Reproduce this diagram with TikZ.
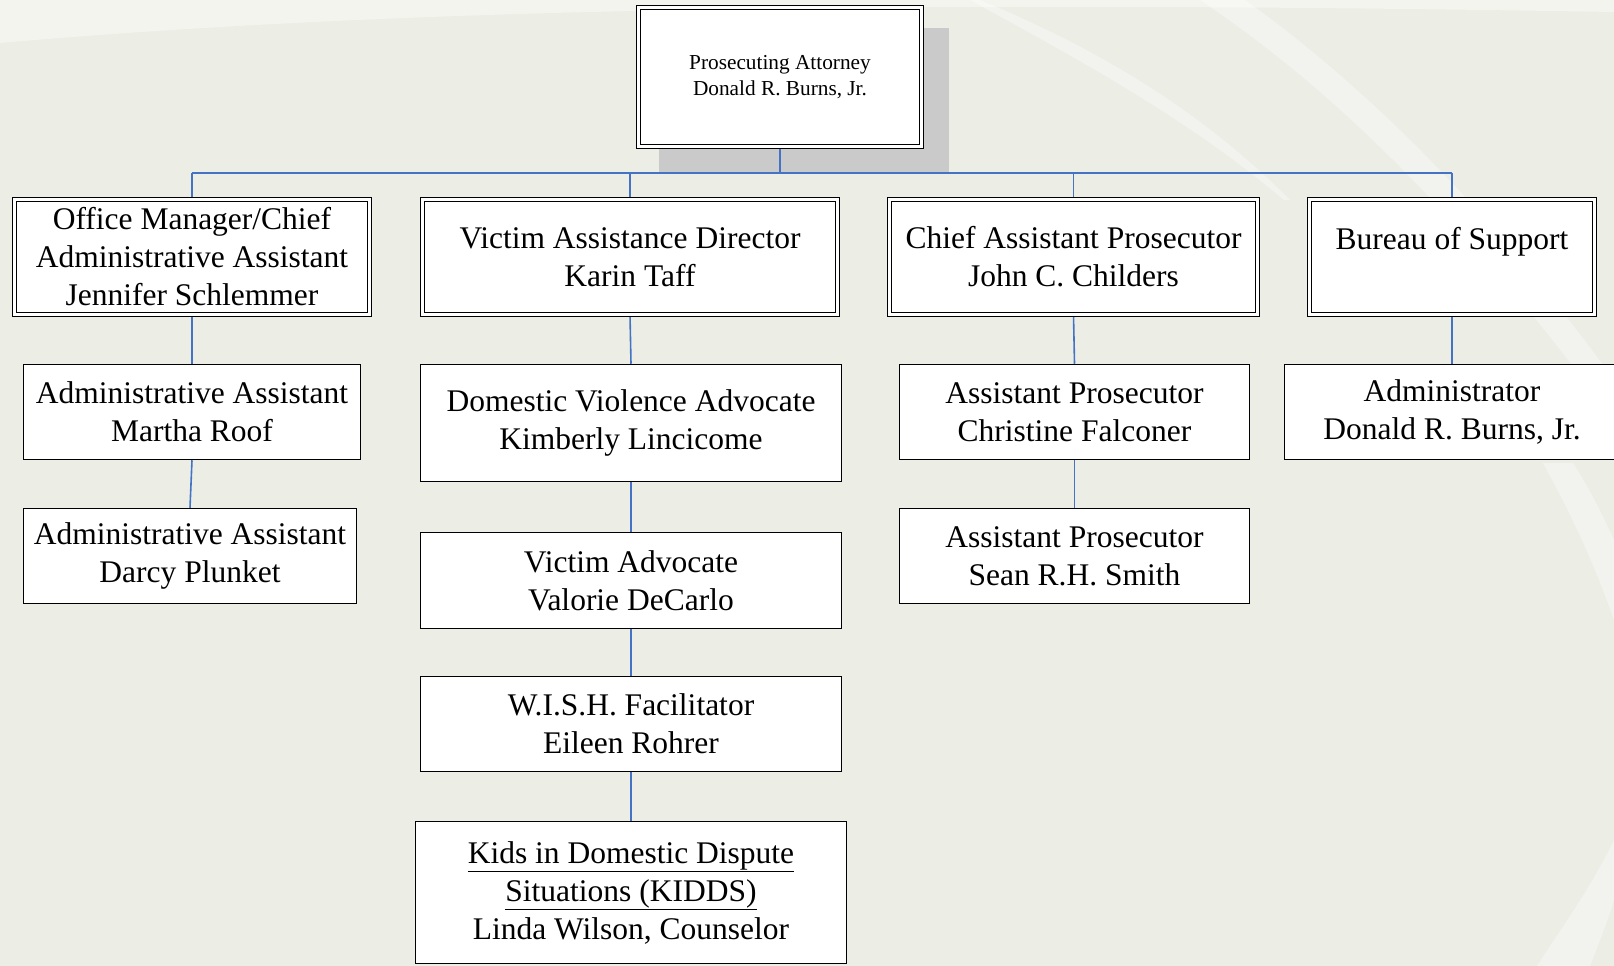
\documentclass[tikz,border=0pt]{standalone}
\usepackage{fontspec}
\setmainfont{Liberation Serif}
\usetikzlibrary{positioning}
\definecolor{bgpaper}{RGB}{236,238,229}
\definecolor{bglight}{RGB}{243,244,237}
\definecolor{linkblue}{RGB}{68,114,196}
\definecolor{shadowgray}{RGB}{202,202,202}
\pgfdeclarelayer{paper}
\pgfdeclarelayer{wires}
\pgfsetlayers{paper,wires,main}
\tikzset{
  unitbox/.style={draw=black, line width=1.5pt, fill=white, align=center,
    inner sep=0pt, font=\fontsize{31.5}{38}\selectfont},
  headbox/.style={unitbox, double=white, double distance=2.4pt, line width=1.3pt},
  link/.style={draw=linkblue, line width=1.6pt},
  swoosh/.style={fill=white, opacity=0.35},
}

\begin{document}
\begin{tikzpicture}[x=1pt,y=-1pt]
      \useasboundingbox (0,0) rectangle (1614,966);
      \begin{pgfonlayer}{paper}
        \fill[bgpaper] (0,0) rectangle (1614,966);
        \fill[bglight] (0,0) -- (0,43) .. controls (400,8) and (900,0) .. (1614,12) -- (1614,0) -- cycle;
        \fill[swoosh] (980,0) .. controls (1100,50) and (1200,110) .. (1290,200)
          -- (1284,200) .. controls (1190,120) and (1080,60) .. (970,0) -- cycle;
        \fill[swoosh] (1200,0) .. controls (1350,100) and (1480,240) .. (1614,420)
          -- (1614,380) .. controls (1490,210) and (1370,90) .. (1245,0) -- cycle;
        \fill[swoosh] (1543,463) .. controls (1580,530) and (1600,580) .. (1614,620)
          -- (1614,540) .. controls (1600,510) and (1590,490) .. (1573,463) -- cycle;
        \fill[swoosh] (1614,840) .. controls (1590,890) and (1560,930) .. (1537,966)
          -- (1590,966) .. controls (1600,940) and (1608,920) .. (1614,900) -- cycle;
        \fill[shadowgray] (659,28) rectangle (949,172);
      \end{pgfonlayer}
      % top
      \node[headbox, minimum width=283pt, minimum height=139pt,
        font=\fontsize{21.3}{25.7}\selectfont] (pa) at (780,77)
        {Prosecuting Attorney\\Donald R. Burns, Jr.};
      % first level
      \node[headbox, minimum width=355pt, minimum height=115pt] (office) at (192,257)
        {Office Manager/Chief\\Administrative Assistant\\Jennifer Schlemmer};
      \node[headbox, minimum width=415pt, minimum height=115pt] (victim) at (630,257)
        {Victim Assistance Director\\Karin Taff};
      \node[headbox, minimum width=368pt, minimum height=115pt] (chief) at (1073.5,257)
        {Chief Assistant Prosecutor\\John C. Childers};
      \node[headbox, minimum width=285pt, minimum height=115pt] (support) at (1452,257)
        {Bureau of Support\\ \mbox{}};
      % office branch
      \node[unitbox, minimum width=337pt, minimum height=95pt] (martha) at (192,412)
        {Administrative Assistant\\Martha Roof};
      \node[unitbox, minimum width=333pt, minimum height=95pt] (darcy) at (190,556)
        {Administrative Assistant\\Darcy Plunket};
      % victim branch
      \node[unitbox, minimum width=421pt, minimum height=117pt] (dva) at (631,423)
        {Domestic Violence Advocate\\Kimberly Lincicome};
      \node[unitbox, minimum width=421pt, minimum height=96pt] (va) at (631,580.5)
        {Victim Advocate\\Valorie DeCarlo};
      \node[unitbox, minimum width=421pt, minimum height=95pt] (wish) at (631,724)
        {W.I.S.H. Facilitator\\Eileen Rohrer};
      \node[unitbox, minimum width=431pt, minimum height=142pt] (kidds) at (631,892.5)
        {\underline{Kids in Domestic Dispute}\\\underline{Situations (KIDDS)}\\Linda Wilson, Counselor};
      % chief branch
      \node[unitbox, minimum width=350pt, minimum height=95pt] (falconer) at (1074.5,412)
        {Assistant Prosecutor\\Christine Falconer};
      \node[unitbox, minimum width=350pt, minimum height=95pt] (smith) at (1074.5,556)
        {Assistant Prosecutor\\Sean R.H. Smith};
      % support branch
      \node[unitbox, minimum width=335pt, minimum height=95pt] (admin) at (1452,412)
        {Administrator\\Donald R. Burns, Jr.};
      \coordinate (bus) at (0,173);
      \begin{pgfonlayer}{wires}
        \draw[link] (pa.south) -- (pa.south |- bus);
        \draw[link] (office.north |- bus) -- (support.north |- bus);
        \foreach \unit in {office,victim,chief,support}
          \draw[link] (\unit.north |- bus) -- (\unit.north);
        \draw[link] (office.south) -- (martha.north);
        \draw[link] (martha.south) -- (darcy.north);
        \draw[link] (victim.south) -- (dva.north);
        \draw[link] (dva.south) -- (va.north);
        \draw[link] (va.south) -- (wish.north);
        \draw[link] (wish.south) -- (kidds.north);
        \draw[link] (chief.south) -- (falconer.north);
        \draw[link] (falconer.south) -- (smith.north);
        \draw[link] (support.south) -- (admin.north);
      \end{pgfonlayer}
    \end{tikzpicture}
\end{document}
